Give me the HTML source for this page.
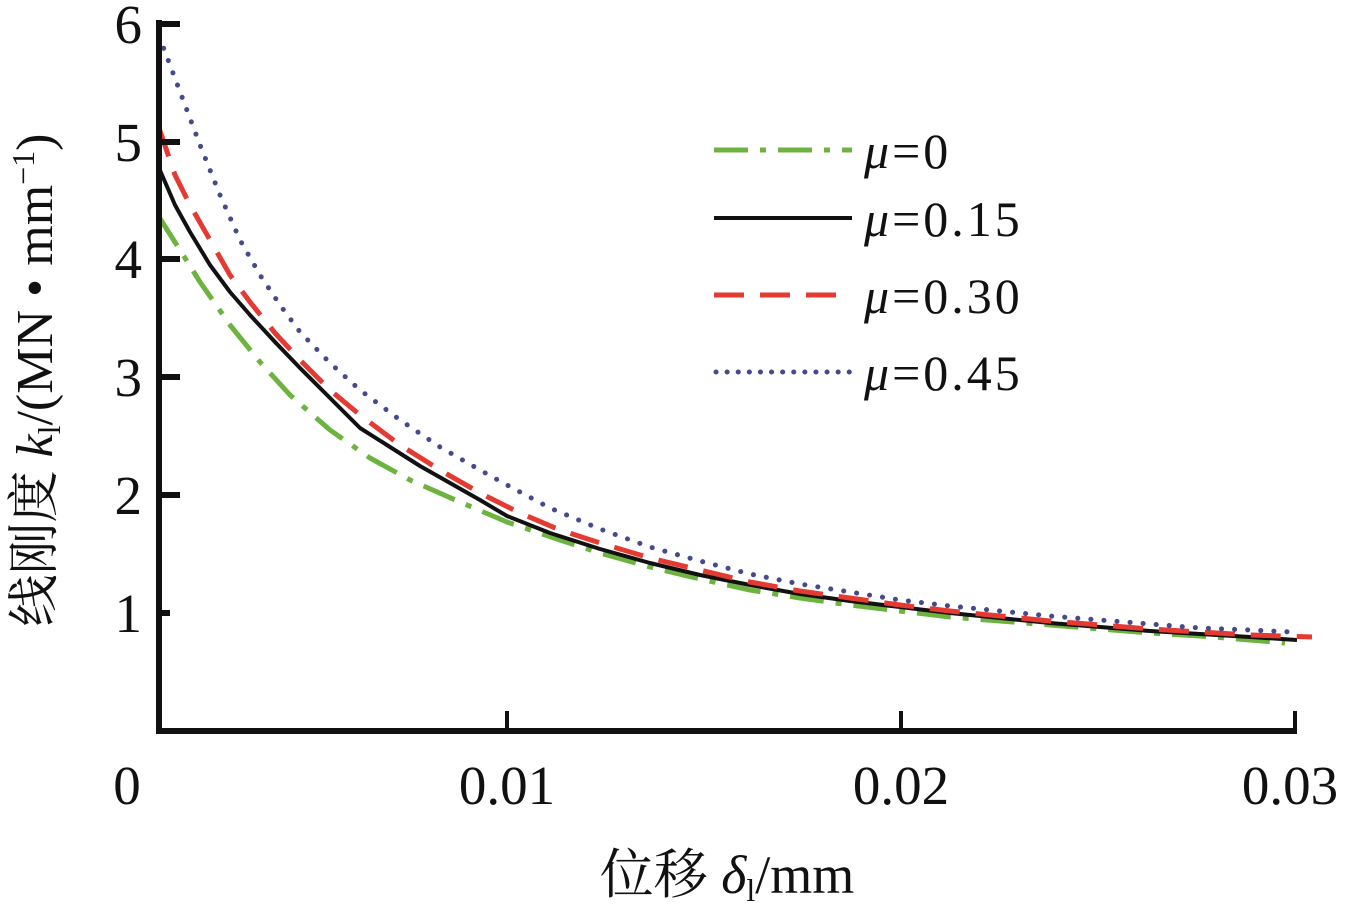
<!DOCTYPE html>
<html><head><meta charset="utf-8"><style>
body{margin:0;background:#fff}
svg text{font-family:"Liberation Serif","Noto Serif CJK SC",serif;fill:#111}
</style></head><body>
<svg width="1345" height="903" viewBox="0 0 1345 903">
<g fill="none" stroke-linecap="butt" stroke-linejoin="round">
<polyline stroke="#6cb33f" stroke-width="5" stroke-dasharray="34,12,6,12" points="159,217 180,250 200,282 230,325 260,362 290,395 330,430 370,458 410,480 460,502 507,522 560,540 600,553 650,567 700,579 750,590 800,598 850,605 900,611 950,617 1000,621 1050,625 1100,629 1150,633 1200,636 1250,640 1285,643"/>
<polyline stroke="#111" stroke-width="4" points="159,168 175,205 190,232 210,265 230,292 250,315 275,342 300,368 330,398 360,428 390,447 420,466 450,483 480,500 507,516 550,533 600,549 650,563 700,575 750,585 800,594 850,601 900,607 950,613 1000,618 1050,623 1100,627 1150,631 1200,634 1250,637 1297,640"/>
<polyline stroke="#e53a32" stroke-width="5" stroke-dasharray="30,16" points="159,128 175,175 190,205 210,240 230,275 250,302 275,333 300,360 330,390 360,415 400,445 440,470 480,493 520,513 560,530 600,543 650,558 700,570 750,582 800,591 850,598 900,605 950,611 1000,616 1050,621 1100,625 1150,629 1200,632 1250,635 1312,637"/>
<polyline stroke="#464a8c" stroke-width="5" stroke-dasharray="0.1,13" stroke-linecap="round" points="159,36 170,65 185,105 200,145 220,195 240,240 260,275 280,305 300,332 330,363 360,390 400,420 440,447 480,470 507,485 550,508 600,529 650,547 700,561 750,574 800,584 850,592 900,600 950,606 1000,611 1050,616 1100,620 1150,624 1200,628 1250,630 1292,632"/>
</g>
<g stroke="#111" stroke-width="6" fill="none">
<polyline points="159,20 159,731 1297,731"/>
<line x1="159" y1="24" x2="180" y2="24"/><line x1="159" y1="142" x2="180" y2="142"/><line x1="159" y1="259" x2="180" y2="259"/><line x1="159" y1="377" x2="180" y2="377"/><line x1="159" y1="495" x2="180" y2="495"/><line x1="159" y1="613" x2="170" y2="613"/>
</g>
<g stroke="#111" stroke-width="4"><line x1="507" y1="711" x2="507" y2="731"/><line x1="901" y1="711" x2="901" y2="731"/><line x1="1295" y1="711" x2="1295" y2="731"/></g>
<g font-size="55" text-anchor="end">
<text x="142" y="43">6</text><text x="142" y="161">5</text><text x="142" y="278">4</text><text x="142" y="396">3</text><text x="142" y="514">2</text><text x="142" y="632">1</text>
</g>
<g font-size="55" text-anchor="middle">
<text x="127" y="804">0</text><text x="507" y="804">0.01</text><text x="901" y="804">0.02</text><text x="1290" y="804">0.03</text>
</g>
<text x="727" y="893" font-size="54" text-anchor="middle">位移 <tspan font-style="italic">δ</tspan><tspan font-size="32" dy="8">l</tspan><tspan dy="-8">/mm</tspan></text>
<text transform="translate(52,380) rotate(-90)" font-size="52" text-anchor="middle">线刚度 <tspan font-style="italic">k</tspan><tspan font-size="32" dy="8">l</tspan><tspan dy="-8">/(MN • mm</tspan><tspan font-size="32" dy="-18">−1</tspan><tspan dy="18">)</tspan></text>
<g fill="none">
<line x1="714" y1="150" x2="852" y2="150" stroke="#6cb33f" stroke-width="5" stroke-dasharray="34,12,6,12"/>
<line x1="714" y1="218" x2="852" y2="218" stroke="#111" stroke-width="4"/>
<line x1="714" y1="295" x2="852" y2="295" stroke="#e53a32" stroke-width="5" stroke-dasharray="30,16"/>
<line x1="716" y1="372" x2="852" y2="372" stroke="#464a8c" stroke-width="5" stroke-dasharray="0.1,11" stroke-linecap="round"/>
</g>
<g font-size="50" letter-spacing="3">
<text x="864" y="168"><tspan font-style="italic">μ</tspan>=0</text>
<text x="864" y="236"><tspan font-style="italic">μ</tspan>=0.15</text>
<text x="864" y="313"><tspan font-style="italic">μ</tspan>=0.30</text>
<text x="864" y="390"><tspan font-style="italic">μ</tspan>=0.45</text>
</g>
</svg>
</body></html>
